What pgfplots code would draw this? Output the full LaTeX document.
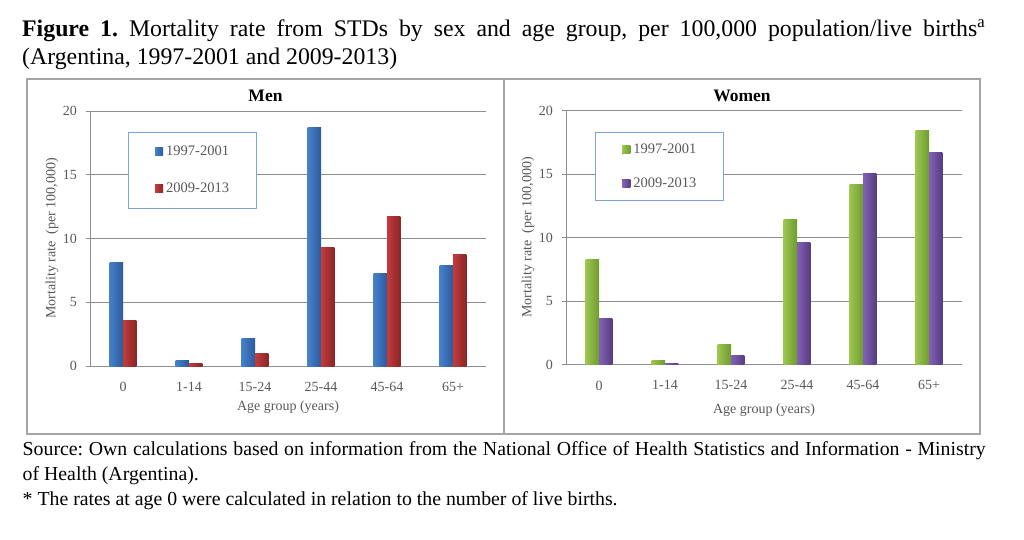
\documentclass[border=0pt]{standalone}
\usepackage{pgfplots}
\pgfplotsset{compat=1.18}
\usepackage{fontspec}
\setmainfont{Liberation Serif}
\definecolor{axgray}{HTML}{8E8E8E}
\definecolor{panelgray}{HTML}{A5A5A5}
\definecolor{labelgray}{HTML}{595959}
\definecolor{legblue}{HTML}{7EA6DA}
\definecolor{blueM}{HTML}{4680CC}
\definecolor{blueL}{HTML}{5E98E2}
\definecolor{blueD}{HTML}{2C5A9A}
\definecolor{redM}{HTML}{C43C3C}
\definecolor{redL}{HTML}{D65252}
\definecolor{redD}{HTML}{8A2626}
\definecolor{greenM}{HTML}{9CC650}
\definecolor{greenL}{HTML}{B2D96A}
\definecolor{greenD}{HTML}{6F9A30}
\definecolor{purpleM}{HTML}{8362B6}
\definecolor{purpleL}{HTML}{9B7BCB}
\definecolor{purpleD}{HTML}{563C80}
\pgfplotsset{
  panel/.style={
    scale only axis, width=396pt,
    ymin=0, ymax=20, xmin=-0.5, xmax=5.5,
    xtick={0,...,5}, xticklabels={0,1-14,15-24,25-44,45-64,65+},
    ytick={0,5,10,15,20},
    axis x line*=bottom, axis y line*=left,
    axis line style={draw=axgray, line width=0.9pt, -},
    ymajorgrids, major grid style={draw=axgray, line width=0.9pt},
    tick align=outside, major tick length=4pt,
    ytick style={draw=axgray, line width=0.9pt},
    xtick style={draw=none},
    /pgf/number format/assume math mode=true,
    ticklabel style={font=\fontsize{14}{16}\selectfont, text=labelgray},
    yticklabel style={inner sep=0pt, xshift=-9pt},
    xticklabel style={inner sep=0pt, yshift=-12pt},
    ylabel={Mortality rate\ \ (per 100,000)},
    ylabel style={at={(axis description cs:-0.096,0.5)}, anchor=center, rotate=0, font=\fontsize{14}{16}\selectfont, text=labelgray},
    xlabel={Age group\ (years)},
    legend cell align=left,
    legend image code/.code={\fill[##1] (0pt,-4pt) rectangle (8pt,4pt);},
  },
  barA/.style={ybar, bar width=13.3pt, bar shift=-6.65pt, draw=none},
  barB/.style={ybar, bar width=13.3pt, bar shift=6.65pt, draw=none},
  sblue/.style={barA, left color=blueM, middle color=blueL, right color=blueD},
  sred/.style={barB, left color=redM, middle color=redL, right color=redD},
  sgreen/.style={barA, left color=greenM, middle color=greenL, right color=greenD},
  spurple/.style={barB, left color=purpleM, middle color=purpleL, right color=purpleD},
}
\begin{document}
\frenchspacing
\begin{tikzpicture}[x=1pt,y=1pt]
\useasboundingbox (0,0) rectangle (1024,-540);
\fill[white] (0,0) rectangle (1024,-540);

\node[anchor=base west, inner sep=0pt, text width=963pt, align=justify, font=\fontsize{23.8}{28.3}\selectfont] at (22,-36.7)
 {\frenchspacing\textbf{Figure 1.} Mortality rate from STDs by sex and age group, per 100,000 population/live births\textsuperscript{a}\linebreak (Argentina, 1997-2001 and 2009-2013)};

\node[anchor=base west, inner sep=0pt, text width=963pt, align=justify, font=\fontsize{19.8}{24.7}\selectfont] at (22.5,-455.7)
 {\frenchspacing Source: Own calculations based on information from the National Office of Health Statistics and Information - Ministry\linebreak of Health (Argentina).\par * The rates at age 0 were calculated in relation to the number of live births.};

\draw[panelgray, line width=1.4pt] (27,-79) rectangle (980,-434);
\draw[panelgray, line width=1.4pt] (504,-79) -- (504,-434);

\node[font=\bfseries\fontsize{17.5}{20}\selectfont] at (265.5,-96) {Men};
\node[font=\bfseries\fontsize{17.5}{20}\selectfont] at (742,-96) {Women};

\begin{axis}[panel, at={(90pt,-366pt)}, anchor=south west, height=255pt,
  xlabel style={at={(axis description cs:0.5,-0.16)}, anchor=center, font=\fontsize{14}{16}\selectfont, text=labelgray},
  legend style={at={(axis description cs:0.0952,0.9188)}, anchor=north west, draw=legblue, line width=1pt, fill=white,
    inner xsep=27pt, inner ysep=14pt, row sep=26pt, font=\fontsize{14.5}{16}\selectfont, text=labelgray,
    nodes={inner sep=0pt}, /tikz/every odd column/.append style={column sep=3pt}}]
\addplot[sblue] coordinates {(0,8.1)};
\addplot[sred] coordinates {(0,3.55)};
\addplot[sblue, forget plot] coordinates {(1,0.47)};
\addplot[sblue, forget plot] coordinates {(2,2.15)};
\addplot[sblue, forget plot] coordinates {(3,18.7)};
\addplot[sblue, forget plot] coordinates {(4,7.27)};
\addplot[sblue, forget plot] coordinates {(5,7.9)};
\addplot[sred, forget plot] coordinates {(1,0.18)};
\addplot[sred, forget plot] coordinates {(2,1.0)};
\addplot[sred, forget plot] coordinates {(3,9.3)};
\addplot[sred, forget plot] coordinates {(4,11.7)};
\addplot[sred, forget plot] coordinates {(5,8.76)};
\legend{1997-2001, 2009-2013}
\end{axis}

\begin{axis}[panel, at={(566pt,-364.5pt)}, anchor=south west, height=254pt,
  xlabel style={at={(axis description cs:0.5,-0.178)}, anchor=center, font=\fontsize{14}{16}\selectfont, text=labelgray},
  legend style={at={(axis description cs:0.0732,0.916)}, anchor=north west, draw=legblue, line width=1pt, fill=white,
    inner xsep=27pt, inner ysep=12pt, row sep=22pt, font=\fontsize{14.5}{16}\selectfont, text=labelgray,
    nodes={inner sep=0pt}, /tikz/every odd column/.append style={column sep=3pt}}]
\addplot[sgreen] coordinates {(0,8.28)};
\addplot[spurple] coordinates {(0,3.65)};
\addplot[sgreen, forget plot] coordinates {(1,0.34)};
\addplot[sgreen, forget plot] coordinates {(2,1.6)};
\addplot[sgreen, forget plot] coordinates {(3,11.4)};
\addplot[sgreen, forget plot] coordinates {(4,14.2)};
\addplot[sgreen, forget plot] coordinates {(5,18.4)};
\addplot[spurple, forget plot] coordinates {(1,0.1)};
\addplot[spurple, forget plot] coordinates {(2,0.73)};
\addplot[spurple, forget plot] coordinates {(3,9.64)};
\addplot[spurple, forget plot] coordinates {(4,15.03)};
\addplot[spurple, forget plot] coordinates {(5,16.7)};
\legend{1997-2001, 2009-2013}
\end{axis}
\end{tikzpicture}
\end{document}
